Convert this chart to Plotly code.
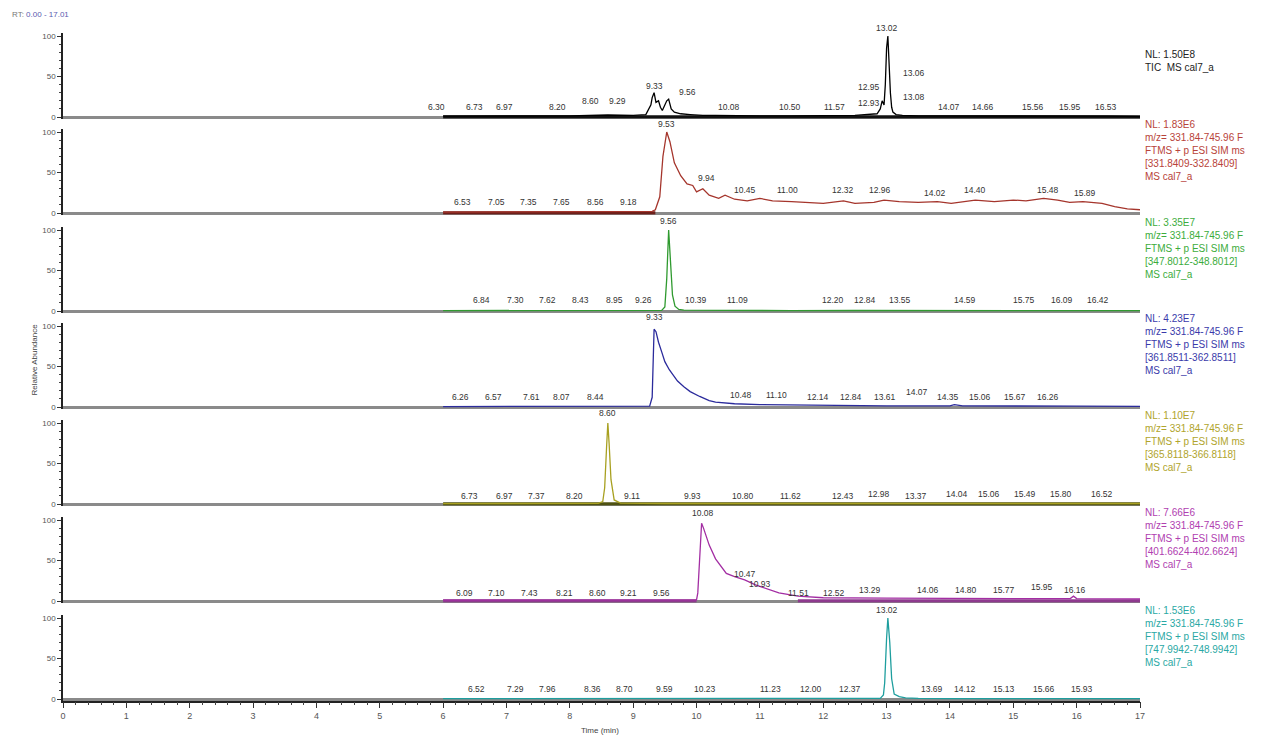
import plotly.graph_objects as go

# ---------------- data ----------------
# Panel 1: TIC
tic_t = [6.0, 6.3, 6.7, 7.0, 7.5, 8.0, 8.3, 8.6, 9.0, 9.2, 9.28, 9.30, 9.33, 9.36, 9.40, 9.43, 9.46, 9.50, 9.53, 9.56,
         9.60, 9.65, 9.75, 9.9, 10.1, 10.3, 10.6, 11.0, 11.5, 12.0, 12.5, 12.85, 12.9, 12.93, 12.96, 12.98, 13.00,
         13.02, 13.04, 13.06, 13.08, 13.10, 13.15, 13.25, 13.5, 14.0, 14.5, 15.0, 15.5, 16.0, 16.5, 17.0]
tic_i = [1, 1, 1.5, 1, 1, 1.5, 2, 2.5, 2, 3, 15, 24, 30, 18, 20, 12, 8, 14, 20, 22,
         10, 6, 4, 3, 2, 2, 1.5, 1.5, 1.5, 1.5, 2, 4, 10, 20, 15, 40, 85,
         100, 60, 30, 12, 6, 3, 2, 1.5, 1.5, 1, 1, 1, 1, 1, 0.5]
p1_lab = ["6.30", "6.73", "6.97", "8.20", "8.60", "9.29", "9.33", "9.56", "10.08", "10.50", "11.57", "12.95",
          "12.93", "13.02", "13.06", "13.08", "14.07", "14.66", "15.56", "15.95", "16.53"]
p1_lt = [5.90, 6.50, 6.97, 7.80, 8.32, 8.76, 9.34, 9.85, 10.52, 11.47, 12.17, 12.72,
         12.72, 13.00, 13.43, 13.43, 13.98, 14.52, 15.31, 15.89, 16.47]
p1_la = [12, 12, 12, 12, 20, 20, 38, 31, 12, 12, 12, 37, 17, 110, 54, 25, 12, 12, 12, 12, 12]

# Panel 2: m/z 331.8409
p2_t = [6.0, 6.5, 7.0, 7.5, 8.0, 8.5, 9.0, 9.3, 9.35, 9.42, 9.47, 9.53, 9.58, 9.65, 9.75, 9.85, 9.94, 10.0, 10.1,
        10.2, 10.35, 10.45, 10.6, 10.8, 11.0, 11.2, 11.5, 11.8, 12.0, 12.32, 12.5, 12.8, 12.96, 13.2, 13.5, 13.8,
        14.02, 14.4, 14.7, 15.0, 15.2, 15.48, 15.7, 15.89, 16.1, 16.4, 16.6, 16.8, 17.0]
p2_i = [1, 1.2, 1, 1.3, 1, 1.2, 1.5, 2, 4, 20, 70, 100, 88, 62, 46, 36, 34, 26, 30,
        22, 18, 22, 17, 15, 18, 15, 14, 13, 12, 15, 12, 13, 16, 14, 13, 14,
        12, 16, 14, 16, 15, 18, 16, 13, 14, 12, 8, 5, 4]
p2_lab = ["9.53", "9.94", "10.45", "11.00", "12.32", "12.96", "14.02", "14.40", "15.48", "15.89",
          "6.53", "7.05", "7.35", "7.65", "8.56", "9.18"]
p2_lt = [9.53, 10.15, 10.76, 11.43, 12.31, 12.89, 13.76, 14.39, 15.54, 16.13,
         6.30, 6.85, 7.35, 7.87, 8.41, 8.93]
p2_la = [110, 43, 28, 28, 28, 28, 25, 28, 28, 25, 14, 14, 14, 14, 14, 14]

# Panel 3: m/z 347.8012
p3_t = [6.0, 7.0, 8.0, 9.0, 9.45, 9.50, 9.53, 9.56, 9.59, 9.62, 9.66, 9.72, 9.8, 10.5, 11.5, 12.5, 13.5, 14.5,
        15.5, 16.5, 17.0]
p3_i = [0.5, 0.6, 0.5, 0.6, 0.8, 5, 40, 100, 60, 20, 6, 2, 1, 0.6, 0.5, 0.6, 0.5, 0.6, 0.5, 0.6, 0.5]
p3_lab = ["9.56", "6.84", "7.30", "7.62", "8.43", "8.95", "9.26", "10.39", "11.09", "12.20", "12.84", "13.55",
          "14.59", "15.75", "16.09", "16.42"]
p3_lt = [9.56, 6.60, 7.15, 7.64, 8.17, 8.71, 9.17, 9.99, 10.65, 12.15, 12.66, 13.21,
         14.24, 15.17, 15.77, 16.33]
p3_la = [111, 14, 14, 14, 14, 14, 14, 14, 14, 14, 14, 14, 14, 14, 14, 14]

# Panel 4: m/z 361.8511
p4_t = [6.0, 7.0, 8.0, 9.0, 9.26, 9.30, 9.33, 9.36, 9.40, 9.45, 9.50, 9.57, 9.70, 9.80, 9.90, 10.05, 10.2, 10.3,
        10.6, 11.0, 11.5, 12.0, 13.0, 14.0, 14.07, 14.2, 15.0, 16.0, 17.0]
p4_i = [0.5, 0.6, 0.5, 0.6, 1, 12, 96, 93, 80, 68, 56, 46, 32, 25, 19, 13, 8, 6,
        4, 3, 2.5, 2, 1.5, 1.5, 3, 1.5, 1, 1, 0.8]
p4_lab = ["9.33", "6.26", "6.57", "7.61", "8.07", "8.44", "10.48", "11.10", "12.14", "12.84", "13.61", "14.07",
          "14.35", "15.06", "15.67", "16.26"]
p4_lt = [9.34, 6.28, 6.80, 7.39, 7.87, 8.40, 10.70, 11.27, 11.91, 12.44, 12.97, 13.48,
         13.97, 14.47, 15.02, 15.54]
p4_la = [111, 12, 12, 12, 12, 12, 15, 15, 12, 12, 12, 18, 12, 12, 12, 12]

# Panel 5: m/z 365.8118
p5_t = [6.0, 7.0, 8.0, 8.45, 8.52, 8.55, 8.58, 8.60, 8.62, 8.65, 8.70, 8.80, 9.5, 10.5, 11.5, 12.5, 13.5, 14.5,
        15.5, 16.5, 17.0]
p5_i = [0.5, 0.6, 0.6, 0.8, 3, 20, 70, 100, 75, 30, 5, 1, 0.6, 0.6, 0.8, 0.8, 0.8, 0.8, 0.8, 0.8, 0.6]
p5_lab = ["8.60", "6.73", "6.97", "7.37", "8.20", "9.11", "9.93", "10.80", "11.62", "12.43", "12.98", "13.37",
          "14.04", "15.06", "15.49", "15.80", "16.52"]
p5_lt = [8.59, 6.41, 6.97, 7.48, 8.08, 8.98, 9.93, 10.73, 11.49, 12.31, 12.88, 13.46,
         14.11, 14.61, 15.18, 15.76, 16.40]
p5_la = [112, 10, 10, 10, 10, 10, 10, 10, 10, 10, 12, 10, 12, 12, 12, 12, 12]

# Panel 6: m/z 401.6624
p6_t = [6.0, 7.0, 8.0, 9.0, 9.6, 10.0, 10.02, 10.05, 10.08, 10.11, 10.15, 10.20, 10.30, 10.37, 10.47, 10.6, 10.76,
        10.93, 11.15, 11.3, 11.6, 12.0, 13.0, 14.0, 15.0, 15.9, 15.95, 16.0, 17.0]
p6_i = [1, 1.2, 1, 1.2, 1, 1.5, 10, 55, 96, 90, 80, 69, 52, 44, 34, 30, 26,
        20, 14, 10, 6, 4, 3.5, 3, 3, 3, 6, 3, 2.5]
p6_lab = ["10.08", "6.09", "7.10", "7.43", "8.21", "8.60", "9.21", "9.56", "10.47", "10.93", "11.51", "12.52",
          "13.29", "14.06", "14.80", "15.77", "15.95", "16.16"]
p6_lt = [10.10, 6.33, 6.85, 7.37, 7.92, 8.44, 8.92, 9.45, 10.76, 11.00, 11.61, 12.17,
         12.74, 13.65, 14.25, 14.85, 15.45, 15.97]
p6_la = [109, 10, 10, 10, 10, 10, 10, 10, 33, 21, 10, 10, 14, 14, 14, 14, 17, 14]

# Panel 7: m/z 747.9942
p7_t = [6.0, 7.0, 8.0, 9.0, 10.0, 11.0, 12.0, 12.9, 12.95, 12.97, 13.00, 13.02, 13.05, 13.08, 13.12, 13.2, 13.3,
        13.5, 14.0, 15.0, 16.0, 17.0]
p7_i = [0.5, 0.5, 0.5, 0.5, 0.5, 0.5, 0.5, 0.8, 5, 20, 75, 100, 70, 25, 6, 3, 1.5, 0.8, 0.5, 0.5, 0.5, 0.5]
p7_lab = ["13.02", "6.52", "7.29", "7.96", "8.36", "8.70", "9.59", "10.23", "11.23", "12.00", "12.37", "13.69",
          "14.12", "15.13", "15.66", "15.93"]
p7_lt = [13.00, 6.52, 7.15, 7.65, 8.35, 8.87, 9.50, 10.13, 11.16, 11.80, 12.42, 13.71,
         14.24, 14.86, 15.49, 16.09]
p7_la = [110, 12, 12, 12, 12, 12, 12, 12, 12, 12, 12, 12, 12, 12, 12, 12]

info_texts = [
    "NL: 1.50E8<br>TIC  MS cal7_a",
    "NL: 1.83E6<br>m/z= 331.84-745.96 F<br>FTMS + p ESI SIM ms<br>[331.8409-332.8409]<br>MS cal7_a",
    "NL: 3.35E7<br>m/z= 331.84-745.96 F<br>FTMS + p ESI SIM ms<br>[347.8012-348.8012]<br>MS cal7_a",
    "NL: 4.23E7<br>m/z= 331.84-745.96 F<br>FTMS + p ESI SIM ms<br>[361.8511-362.8511]<br>MS cal7_a",
    "NL: 1.10E7<br>m/z= 331.84-745.96 F<br>FTMS + p ESI SIM ms<br>[365.8118-366.8118]<br>MS cal7_a",
    "NL: 7.66E6<br>m/z= 331.84-745.96 F<br>FTMS + p ESI SIM ms<br>[401.6624-402.6624]<br>MS cal7_a",
    "NL: 1.53E6<br>m/z= 331.84-745.96 F<br>FTMS + p ESI SIM ms<br>[747.9942-748.9942]<br>MS cal7_a",
]
info_top = [86, 119, 119, 119, 119, 119, 119]   # in relative-abundance units

# thick baseline spans (start, end) per panel
base_spans = [[(6.0, 17.0)], [(6.0, 9.35)], [], [], [(6.0, 17.0)], [(6.0, 10.0), (11.6, 17.0)], []]

x_ticks = list(range(0, 18))

# ---------------- styling ----------------
line_colors = ["#000000", "#a5352c", "#2f9a2f", "#2b2b9c", "#a8a020", "#a32ea3", "#1e9e9e"]
text_colors = ["#222222", "#b8433a", "#3cac3c", "#3a3aaa", "#b0a42c", "#b040b0", "#2aa8a4"]
base_colors = ["#111111", "#6e1f1a", None, None, "#4f5212", "#8e3a8e", None]

panels = [
    (tic_t, tic_i, p1_lab, p1_lt, p1_la),
    (p2_t, p2_i, p2_lab, p2_lt, p2_la),
    (p3_t, p3_i, p3_lab, p3_lt, p3_la),
    (p4_t, p4_i, p4_lab, p4_lt, p4_la),
    (p5_t, p5_i, p5_lab, p5_lt, p5_la),
    (p6_t, p6_i, p6_lab, p6_lt, p6_la),
    (p7_t, p7_i, p7_lab, p7_lt, p7_la),
]

W, H = 1263, 735
M_T, M_B, M_L, M_R = 10, 30, 63, 123
zero_px = [117, 213, 311, 407, 504, 601, 699]
PX_PER_UNIT = 0.81
Y_LO, Y_HI = -2, 104


def frac(py):
    return (H - M_B - py) / (H - M_T - M_B)


def dom(a):
    return (a - Y_LO) / (Y_HI - Y_LO)


FONT = "Liberation Sans, Arial, sans-serif"
fig = go.Figure()
annotations = []
for k, (t, inten, lab, lt, la) in enumerate(panels):
    yname = "y" if k == 0 else f"y{k + 1}"
    for (s, e) in base_spans[k]:
        fig.add_trace(go.Scatter(x=[s, e], y=[0, 0], mode="lines", xaxis="x", yaxis=yname,
                                 line=dict(color=base_colors[k], width=3.5), hoverinfo="skip",
                                 showlegend=False))
    fig.add_trace(go.Scatter(x=t, y=inten, mode="lines", xaxis="x", yaxis=yname,
                             line=dict(color=line_colors[k], width=1.3), showlegend=False))
    dref = f"{yname} domain"
    for txt, xt, ya in zip(lab, lt, la):
        annotations.append(dict(x=xt, y=dom(ya), xref="x", yref=dref, text=txt, showarrow=False,
                                font=dict(size=8.5, color="#333333", family=FONT),
                                xanchor="center", yanchor="middle"))
    annotations.append(dict(x=1.003, y=dom(info_top[k]), xref="paper", yref=dref,
                            text=info_texts[k], showarrow=False, align="left",
                            xanchor="left", yanchor="top",
                            font=dict(size=10, color=text_colors[k], family=FONT)))
    bottom = frac(zero_px[k] - Y_LO * PX_PER_UNIT)
    top = frac(zero_px[k] - Y_HI * PX_PER_UNIT)
    key = "yaxis" if k == 0 else f"yaxis{k + 1}"
    fig.layout[key] = dict(domain=[bottom, top], range=[Y_LO, Y_HI], anchor="x",
                           tickvals=[0, 50, 100], ticktext=["0", "50", "100"],
                           ticks="outside", ticklen=4, tickcolor="#333",
                           minor=dict(dtick=10, ticklen=2, ticks="outside", tickcolor="#444"),
                           showline=True, linecolor="#222", linewidth=1.5,
                           zeroline=True, zerolinecolor="#8a8a8a", zerolinewidth=3,
                           showgrid=False, fixedrange=True,
                           tickfont=dict(size=8, color="#555", family=FONT))

annotations.append(dict(x=(27 - M_L) / (W - M_L - M_R), y=frac(360), xref="paper", yref="paper",
                        text="Relative Abundance", textangle=-90, showarrow=False,
                        font=dict(size=8, color="#444", family=FONT)))
annotations.append(dict(x=(600 - M_L) / (W - M_L - M_R), y=frac(730), xref="paper", yref="paper",
                        text="Time (min)", showarrow=False, yanchor="middle",
                        font=dict(size=8, color="#444", family=FONT)))
annotations.append(dict(x=(10 - M_L) / (W - M_L - M_R), y=frac(14), xref="paper", yref="paper",
                        text="<span style='color:#777'>RT:</span> <span style='color:#5a5ab0'>0.00 - 17.01</span>",
                        showarrow=False, xanchor="left", yanchor="middle",
                        font=dict(size=8, family=FONT)))

fig.update_layout(
    width=W, height=H,
    margin=dict(t=M_T, b=M_B, l=M_L, r=M_R),
    paper_bgcolor="white", plot_bgcolor="white",
    xaxis=dict(range=[0, 17], anchor="y7", tickvals=x_ticks, ticks="outside", ticklen=6,
               tickcolor="#333", minor=dict(dtick=0.2, ticklen=3, ticks="outside", tickcolor="#444"),
               showline=True, linecolor="#222", linewidth=1.5, showgrid=False, zeroline=False,
               tickfont=dict(size=9, color="#555", family=FONT), fixedrange=True),
    annotations=annotations,
    showlegend=False,
)

fig.write_html("out.html", config={"displayModeBar": False},
               post_script="document.body.style.margin='0';")
